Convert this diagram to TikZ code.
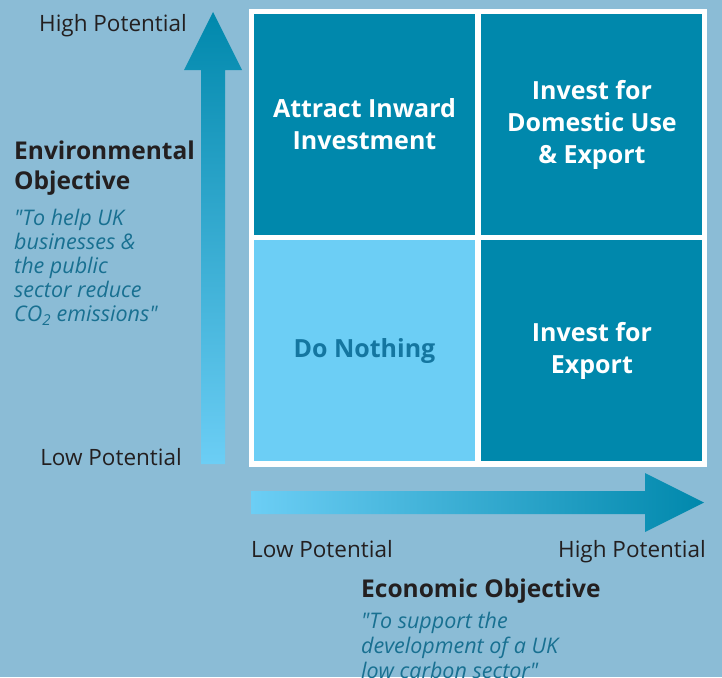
\documentclass[tikz,border=0pt]{standalone}
\usepackage{fontspec}
\setmainfont{Open Sans}
\usetikzlibrary{positioning}
\definecolor{bgblue}{HTML}{8BBCD6}
\definecolor{celldark}{HTML}{0088AC}
\definecolor{celllight}{HTML}{6CCEF5}
\definecolor{labelgrey}{HTML}{231F20}
\definecolor{quoteblue}{HTML}{187091}
\definecolor{nothingblue}{HTML}{1476A0}

\begin{document}
\begin{tikzpicture}[x=1pt, y=-1pt,
    cell/.style={rectangle, minimum width=221pt, minimum height=221pt, inner sep=0pt,
      align=center, text=white, font=\fontsize{25}{32}\selectfont\bfseries},
    axislabel/.style={inner sep=0pt, text=labelgrey, font=\fontsize{22.5}{24}\selectfont},
    objtitle/.style={inner sep=0pt, align=left, text=labelgrey, font=\fontsize{24.5}{30}\selectfont\bfseries},
    objquote/.style={inner sep=0pt, align=left, text=quoteblue, font=\fontsize{21.5}{24}\selectfont\itshape}]

    % Background
    \fill[bgblue] (0,0) rectangle (722,677);
    \useasboundingbox (0,0) rectangle (722,677);
    \fill[white] (249,9) rectangle (707,467);

    % Define nodes
    \node[cell, fill=celldark] (attract) at (364.5,124.5) {Attract Inward\\Investment};
    \node[cell, fill=celldark, right=6pt of attract] (domestic) {Invest for\\Domestic Use\\\& Export};
    \node[cell, fill=celllight, text=nothingblue, below=5pt of attract] (nothing) {Do Nothing};
    \node[cell, fill=celldark, below=5pt of domestic] (export) {Invest for\\Export};

    % Arrows
    \shade[top color=celldark, bottom color=celllight]
      (201,464) -- (201,70) -- (184,70) -- (213,12) -- (242,70) -- (225,70) -- (225,464) -- cycle;
    \shade[left color=celllight, right color=celldark]
      (251,491) -- (645,491) -- (645,473) -- (704,502.5) -- (645,532) -- (645,514) -- (251,514) -- cycle;

    % Labels
    \node[axislabel, anchor=base east] (yhigh) at (187,32) {High Potential};
    \node[axislabel, anchor=base east] (ylow) at (182,465) {Low Potential};
    \node[axislabel, anchor=base west] (xlow) at (251,557) {Low Potential};
    \node[axislabel, anchor=base east] (xhigh) at (706,557) {High Potential};

    \node[objtitle, anchor=north west] (envtitle) at (14,141) {Environmental\\Objective};
    \node[objquote, below=13pt of envtitle.south west, anchor=north west] (envquote)
      {\textquotedbl To help UK\\businesses \&\\the public\\sector reduce\\CO\textsubscript{2} emissions\textquotedbl};
    \node[objtitle, anchor=north west] (ecotitle) at (361,579) {Economic Objective};
    \node[objquote, below=8pt of ecotitle.south west, anchor=north west, font=\fontsize{21.5}{25}\selectfont\itshape] (ecoquote)
      {\textquotedbl To support the\\development of a UK\\low carbon sector\textquotedbl};

\end{tikzpicture}
\end{document}
